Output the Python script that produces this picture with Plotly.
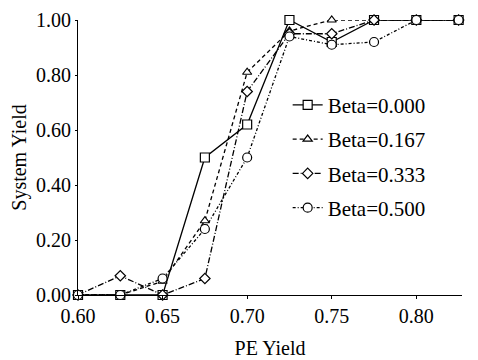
import plotly.graph_objects as go

pe_yield = [0.600, 0.625, 0.650, 0.675, 0.700, 0.725, 0.750, 0.775, 0.800, 0.825]
beta_000 = [0.00, 0.00, 0.00, 0.50, 0.62, 1.00, 0.92, 1.00, 1.00, 1.00]
beta_167 = [0.00, 0.00, 0.05, 0.27, 0.81, 0.96, 1.00, 1.00, 1.00, 1.00]
beta_333 = [0.00, 0.07, 0.00, 0.06, 0.74, 0.95, 0.95, 1.00, 1.00, 1.00]
beta_500 = [0.00, 0.00, 0.06, 0.24, 0.50, 0.94, 0.91, 0.92, 1.00, 1.00]
series_names = ["Beta=0.000", "Beta=0.167", "Beta=0.333", "Beta=0.500"]
x_ticks = [0.60, 0.65, 0.70, 0.75, 0.80]
y_ticks = [0.0, 0.2, 0.4, 0.6, 0.8, 1.0]

symbols = ["square", "triangle-up", "diamond", "circle"]
sizes = [9, 8, 8, 9]
dashes = ["solid", "4px,3px", "6px,2px,1px,2px", "3px,2px,1px,2px"]

fig = go.Figure()
for i, (name, ys) in enumerate(zip(series_names, [beta_000, beta_167, beta_333, beta_500])):
    fig.add_trace(go.Scatter(
        x=pe_yield, y=ys, name=name, mode="lines+markers",
        legendgroup=name,
        line=dict(color="black", width=1.3, dash=dashes[i]),
        marker=dict(symbol=symbols[i], size=sizes[i], color="white",
                    line=dict(color="black", width=1.2)),
        cliponaxis=False,
    ))

font = "Liberation Serif"
fig.update_layout(
    width=478, height=360,
    margin=dict(l=78, r=16, t=20, b=65, autoexpand=False),
    paper_bgcolor="white", plot_bgcolor="white",
    font=dict(family=font, color="black", size=20),
    showlegend=True,
    legend=dict(x=0.546, y=0.765, xanchor="left", yanchor="top",
                font=dict(size=21, family=font), bgcolor="rgba(0,0,0,0)",
                tracegroupgap=4, itemwidth=30),
    xaxis=dict(range=[0.6, 0.827], tickvals=x_ticks, tickformat=".2f",
               automargin=False,
               showgrid=False, zeroline=False, showline=True, linecolor="black",
               linewidth=1, ticks="outside", ticklen=3, tickcolor="black",
               tickfont=dict(size=20, family=font),
               title=dict(text="PE Yield", font=dict(size=20, family=font), standoff=14)),
    yaxis=dict(range=[0, 1.0], tickvals=y_ticks, tickformat=".2f",
               automargin=False,
               showgrid=False, zeroline=False, showline=True, linecolor="black",
               linewidth=1, ticks="outside", ticklen=2, tickcolor="black",
               tickfont=dict(size=20, family=font),
               title=dict(text="System Yield", font=dict(size=20, family=font), standoff=4)),
)
fig.write_html("out.html", config={"displayModeBar": False},
               post_script="document.body.style.margin='0';document.body.style.overflow='hidden';")
